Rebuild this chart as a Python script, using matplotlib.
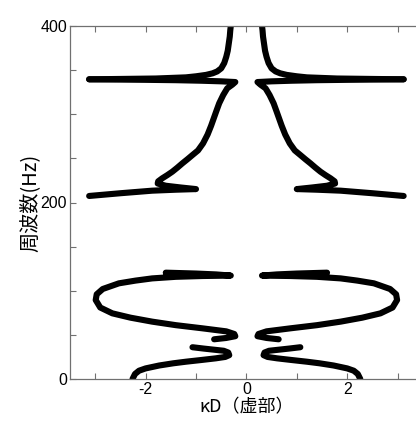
import matplotlib
matplotlib.use("Agg")
from matplotlib import pyplot as plt
import numpy as np

plt.rcParams['axes.unicode_minus'] = False

# right-hand branches (kD > 0); the left half is the mirror image
low_x = [2.26, 2.21, 2.13, 2.00, 1.73, 1.45, 1.20, 0.90, 0.61, 0.42, 0.34, 0.36, 0.45, 0.61, 0.85, 1.07]
low_y = [0, 5.7, 9.4, 12, 15.3, 17.8, 19.6, 21.5, 23.4, 25, 27, 30, 32, 33, 34.5, 36]

loop_x = [0.64, 0.40, 0.22, 0.24, 0.40, 0.87, 1.40, 1.87, 2.30, 2.66, 2.90, 2.99, 2.97, 2.85,
          2.53, 2.20, 1.87, 1.40, 0.87, 0.50, 0.31, 0.60, 1.00, 1.60]
loop_y = [45, 46.5, 48.5, 51, 54, 57.4, 61, 65, 69.5, 74.4, 81, 89.5, 96, 102,
          108.4, 111.5, 114, 115.8, 116.7, 117, 117.2, 118.5, 119.5, 120.5]

top_x = [0.31, 0.32, 0.33, 0.35, 0.37, 0.40, 0.44, 0.50, 0.58, 0.67, 0.80, 1.00, 1.20, 1.80, 2.50, 3.12]
top_y = [400, 395, 388, 380, 372, 365, 358, 352, 348.5, 346.4, 344.6, 343, 341.8, 340.5, 340, 339.6]

mid_x = [3.12, 2.60, 2.00, 1.40, 0.90, 0.50, 0.22, 0.28, 0.38, 0.46, 0.54, 0.60, 0.65, 0.70,
         0.77, 0.86, 0.96, 1.07, 1.17, 1.27, 1.37, 1.47, 1.57, 1.67, 1.75, 1.76, 1.60, 1.30,
         1.00, 1.40, 1.87, 2.50, 3.12]
mid_y = [339.6, 339.3, 339, 338.6, 338, 337.3, 336.5, 333.5, 329.4, 321.8, 312.4, 303, 295, 287,
         277, 267, 259, 253.8, 249, 244.4, 239.5, 234.9, 231, 227.4, 224, 221.5, 219, 217,
         215.2, 214.5, 213.4, 210.5, 207.4]

branches = [(low_x, low_y), (loop_x, loop_y), (top_x, top_y), (mid_x, mid_y)]

fig = plt.figure(figsize=(4.16, 4.21), dpi=100)
ax = fig.add_axes([70/416, 42/421, 352.8/416, 353/421])

for bx, by in branches:
    bx = np.array(bx)
    for sgn in (1, -1):
        ax.plot(sgn*bx, by, color='black', lw=4.4, solid_capstyle='round', solid_joinstyle='round')

ax.set_xlim(-3.5, 3.5)
ax.set_ylim(0, 400)
ax.set_xticks([-2, 0, 2])
ax.set_xticks([-3, -1, 1, 3], minor=True)
ax.set_yticks([0, 200, 400])
ax.set_yticks(np.arange(50, 400, 50), minor=True)
for lab in ax.get_xticklabels() + ax.get_yticklabels():
    lab.set_family('Liberation Sans')
ax.tick_params(which='both', direction='in', top=True, right=True, length=4,
               width=0.8, color='#707070', labelsize=11.5, pad=2)
for s in ax.spines.values():
    s.set_color('#707070')
    s.set_linewidth(0.9)

ax.set_xlabel('κD（虚部）', family=['Noto Sans CJK JP', 'DejaVu Sans'], fontsize=13, labelpad=1)
ax.set_ylabel('周波数(Hz)', family=['Noto Sans CJK JP', 'DejaVu Sans'], fontsize=14.5, labelpad=0)

plt.savefig('out.png', dpi=100)
